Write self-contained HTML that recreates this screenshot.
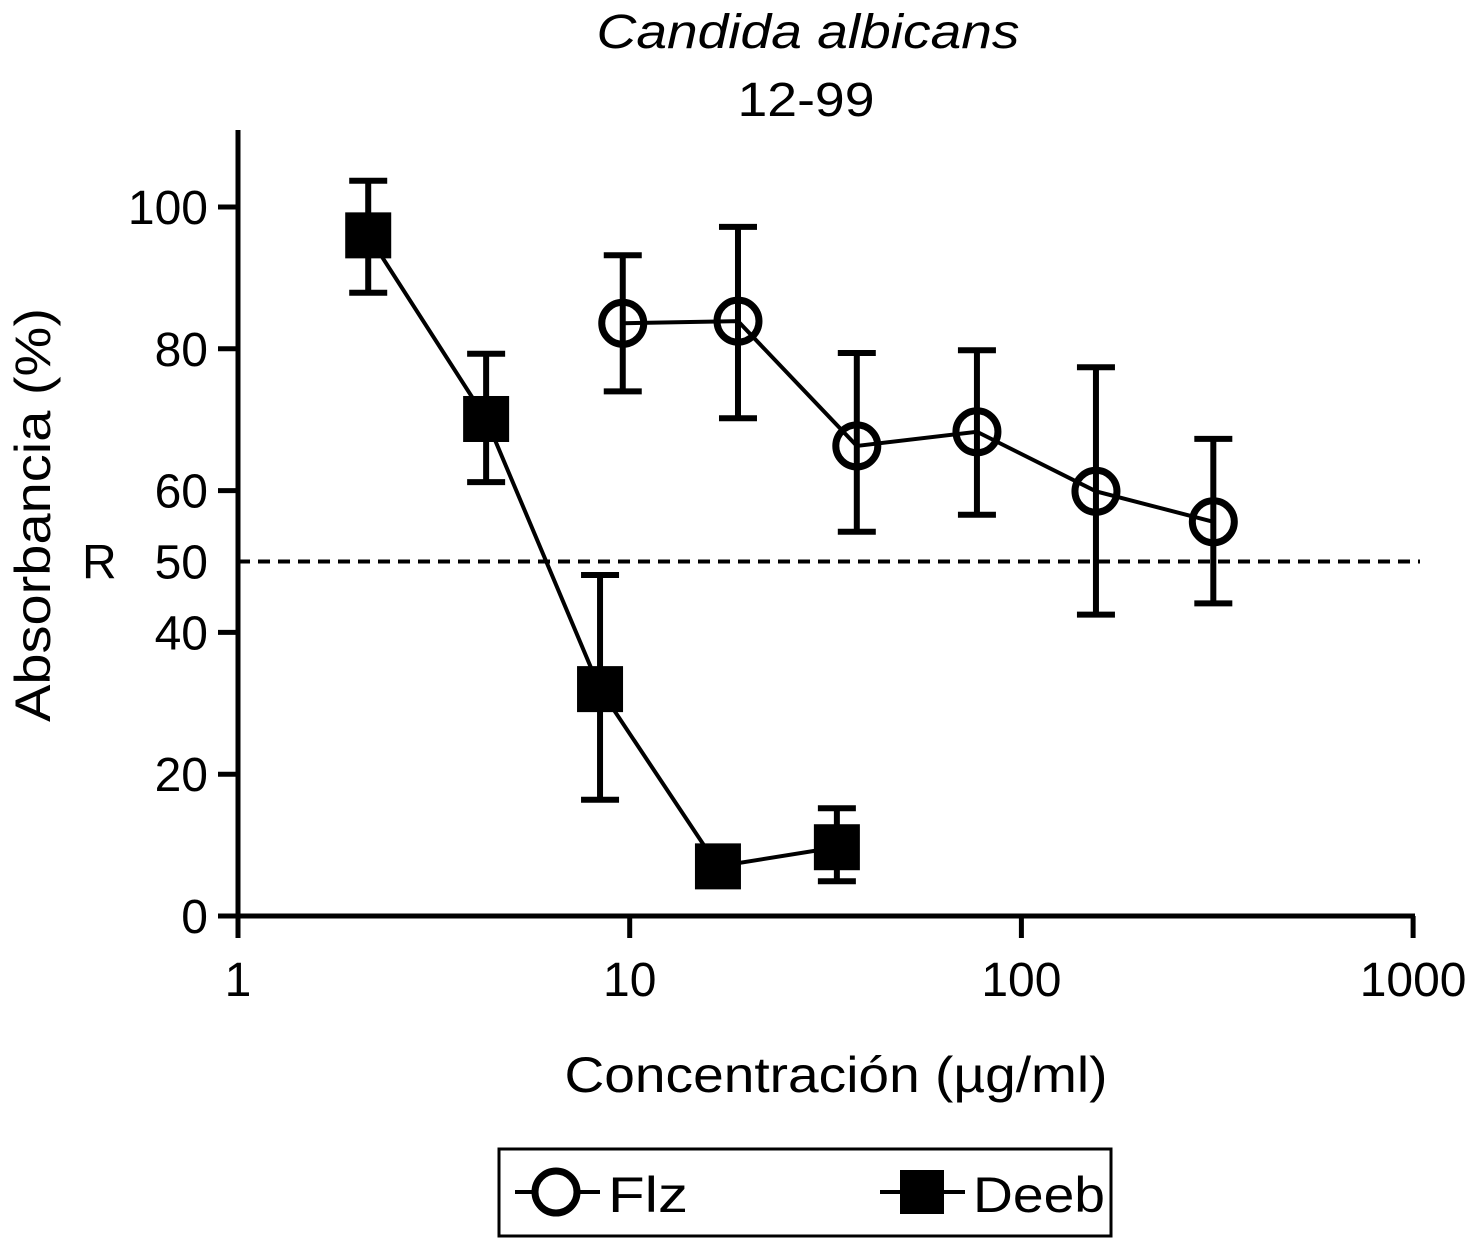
<!DOCTYPE html>
<html><head><meta charset="utf-8"><style>
html,body{margin:0;padding:0;background:#fff;}
svg{display:block;font-family:"Liberation Sans",Arial,sans-serif;}
</style></head><body>
<svg id="chart" width="1479" height="1238" viewBox="0 0 1479 1238">
<text x="808" y="48" font-size="48" font-style="italic" text-anchor="middle" textLength="423" lengthAdjust="spacingAndGlyphs">Candida albicans</text>
<text x="806" y="116" font-size="48" text-anchor="middle" textLength="137" lengthAdjust="spacingAndGlyphs">12-99</text>
<text transform="translate(50,515) rotate(-90)" font-size="50" text-anchor="middle" textLength="414" lengthAdjust="spacingAndGlyphs">Absorbancia (%)</text>
<text x="836" y="1092" font-size="50" text-anchor="middle" textLength="543" lengthAdjust="spacingAndGlyphs">Concentración (µg/ml)</text>
<g id="axes"></g>
<g id="marks"></g>
<g>
<rect x="499" y="1149" width="612" height="87" fill="none" stroke="#000" stroke-width="3"/>
<g>
<line x1="515" y1="1192" x2="600" y2="1192" stroke="#000" stroke-width="4"/>
<circle cx="556" cy="1192" r="21" fill="#fff" stroke="#000" stroke-width="7"/>
<text x="608" y="1212" font-size="50" textLength="80" lengthAdjust="spacingAndGlyphs">Flz</text>
</g>
<g>
<line x1="880" y1="1192" x2="965" y2="1192" stroke="#000" stroke-width="4"/>
<rect x="900" y="1170" width="44" height="44" fill="#000"/>
<text x="973" y="1212" font-size="50" textLength="132" lengthAdjust="spacingAndGlyphs">Deeb</text>
</g>
</g>
</svg>
<script>
const xTicks=[1,10,100,1000];
const yTicks=[0,20,40,60,80,100];
const refValue=50;
const deebX=[2.15,4.3,8.4,16.8,33.8];
const deebY=[96,70.1,32,7,9.7];
const deebHi=[103.7,79.3,48.1,7,15.2];
const deebLo=[87.9,61.2,16.4,7,4.9];
const flzX=[9.6,18.9,38,77,155,309];
const flzY=[83.6,83.9,66.3,68.3,59.9,55.6];
const flzHi=[93.2,97.2,79.4,79.8,77.4,67.3];
const flzLo=[74,70.2,54.2,56.6,42.5,44.1];

const NS="http://www.w3.org/2000/svg";
const X0=238,DEC=391.7,Y0=916,YS=7.09;
function sx(v){return X0+Math.log10(v)*DEC;}
function sy(v){return Y0-v*YS;}
function mk(tag,attrs,parent){const e=document.createElementNS(NS,tag);for(const k in attrs)e.setAttribute(k,attrs[k]);parent.appendChild(e);return e;}
const axes=document.getElementById('axes'),marks=document.getElementById('marks');

let yl=mk('line',{x1:X0,y1:130,x2:X0,y2:Y0+2,stroke:'#000','stroke-width':5},axes);


let xl=mk('line',{x1:X0-2,y1:Y0,x2:1415,y2:Y0,stroke:'#000','stroke-width':5},axes);


yTicks.forEach(v=>{
  mk('line',{x1:X0-20,y1:sy(v),x2:X0,y2:sy(v),stroke:'#000','stroke-width':5},axes);
  let t=mk('text',{x:X0-30,y:sy(v)+17,'font-size':48,'text-anchor':'end'},axes);t.textContent=v;
  
  
});
let t50=mk('text',{x:X0-30,y:sy(refValue)+17,'font-size':48,'text-anchor':'end'},axes);t50.textContent='50';


let tr=mk('text',{x:82,y:sy(refValue)+17,'font-size':48},axes);tr.textContent='R';


xTicks.forEach(v=>{
  mk('line',{x1:sx(v),y1:Y0,x2:sx(v),y2:Y0+22,stroke:'#000','stroke-width':5},axes);
  let t=mk('text',{x:sx(v),y:Y0+80,'font-size':48,'text-anchor':'middle'},axes);t.textContent=v;
  
  
});
let ref=mk('line',{x1:X0,y1:sy(refValue),x2:1420,y2:sy(refValue),stroke:'#000','stroke-width':4,'stroke-dasharray':'12,8'},marks);



function series(xs,ys,hi,lo,name,square){
  const g=mk('g',{},marks);
  
  
  mk('polyline',{points:xs.map((x,i)=>sx(x)+','+sy(ys[i])).join(' '),fill:'none',stroke:'#000','stroke-width':4},g);
  xs.forEach((x,i)=>{
    const cx=sx(x);
    if(hi[i]!==lo[i]){
      mk('line',{x1:cx,y1:sy(hi[i]),x2:cx,y2:sy(lo[i]),stroke:'#000','stroke-width':6},g);
      mk('line',{x1:cx-19,y1:sy(hi[i]),x2:cx+19,y2:sy(hi[i]),stroke:'#000','stroke-width':6},g);
      mk('line',{x1:cx-19,y1:sy(lo[i]),x2:cx+19,y2:sy(lo[i]),stroke:'#000','stroke-width':6},g);
    }
    let m;
    if(square) m=mk('rect',{x:cx-23,y:sy(ys[i])-23,width:46,height:46,fill:'#000'},g);
    else m=mk('circle',{cx:cx,cy:sy(ys[i]),r:21,fill:'#fff','fill-opacity':0,stroke:'#000','stroke-width':7},g);
    
    
  });
}
series(deebX,deebY,deebHi,deebLo,'deeb',true);
series(flzX,flzY,flzHi,flzLo,'flz',false);
</script>
</body></html>
